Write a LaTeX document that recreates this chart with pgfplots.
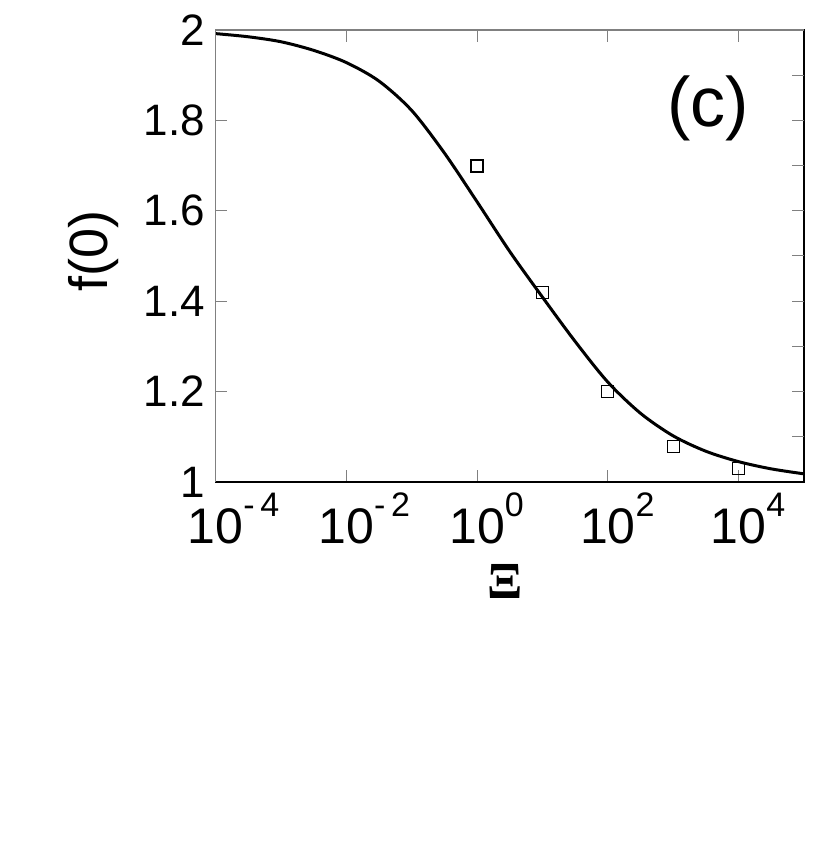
\documentclass[border=0pt]{standalone}
\usepackage{pgfplots}
\pgfplotsset{compat=1.18}
\usepackage{fontspec}
\setmainfont{Liberation Sans}
\newfontfamily\serifxi{Liberation Serif}

% x tick labels: "10" centred on the tick, exponent hanging to the right
\newcommand{\tl}[1]{10\rlap{\raisebox{0.55em}{\fontsize{17}{17}\selectfont #1}}}

\begin{document}
\begin{tikzpicture}
\useasboundingbox (0,0) rectangle (419.5pt,422.5pt);

\begin{axis}[
  at={(107.75pt,181.5pt)}, anchor=south west,
  scale only axis, width=294.25pt, height=226pt,
  xmode=log, xmin=1e-4, xmax=1e5, ymin=1, ymax=2,
  xtick={1e-4,1e-2,1,1e2,1e4},
  xticklabels={\tl{-\,4},\tl{-\,2},\tl{0},\tl{2},\tl{4}},
  minor xtick={},
  ytick={1,1.2,1.4,1.6,1.8,2},
  yticklabels={1,1.2,1.4,1.6,1.8,2},
  ytick pos=left,
  tick align=inside, major tick length=6pt,
  every tick/.style={gray, line width=0.5pt},
  axis line style={black, line width=0.7pt},
  yticklabel style={font=\fontsize{22}{24}\selectfont, inner sep=0pt, xshift=-5pt},
  xticklabel style={font=\fontsize{25}{27}\selectfont, inner sep=0pt, anchor=base, yshift=-31pt},
  xlabel={\serifxi\bfseries Ξ},
  xlabel style={font=\fontsize{26}{28}\selectfont, at={(axis description cs:0.492,-0.219)}, anchor=center},
  ylabel={f(0)},
  ylabel style={font=\fontsize{27}{30}\selectfont, at={(axis description cs:-0.2065,0.511)}, anchor=center},
  clip=false,
]
\addplot[black, line width=1.5pt, smooth, tension=0.5] coordinates {
 (1e-4,1.992) (3.16e-4,1.985) (1e-3,1.974) (3.16e-3,1.955) (0.01,1.928)
 (0.0316,1.887) (0.1,1.822) (0.316,1.728) (1,1.620) (3.16,1.510)
 (10,1.409) (31.6,1.311) (100,1.221) (316,1.152) (1000,1.102)
 (3162,1.068) (10000,1.045) (31623,1.029) (100000,1.018)
};
\addplot[only marks, mark=square, mark size=3pt, mark options={black, line width=0.6pt}] coordinates {
 (1,1.699) (10,1.419) (100,1.200) (1000,1.079) (10000,1.029)
};
\draw[gray, line width=0.7pt] (rel axis cs:0,0) -- (rel axis cs:0,1) -- (rel axis cs:1,1);
\node[font=\fontsize{35}{38}\selectfont, anchor=center] at (axis description cs:0.837,0.827) {(c)};
\end{axis}

\begin{axis}[
  at={(107.75pt,181.5pt)}, anchor=south west,
  scale only axis, width=294.25pt, height=226pt,
  xmin=0, xmax=1, ymin=1, ymax=2,
  axis line style={draw=none},
  xtick=\empty, ytick={1.1,1.2,...,1.91},
  ytick pos=right, yticklabels={},
  tick align=inside, major tick length=6pt,
  every tick/.style={gray, line width=0.5pt},
]
\end{axis}
\end{tikzpicture}
\end{document}
